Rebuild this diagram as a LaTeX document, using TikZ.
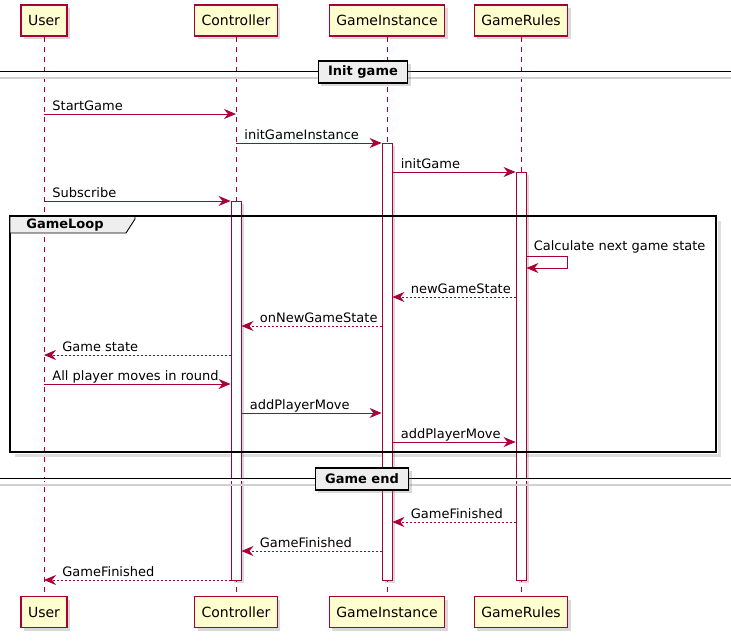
\documentclass[tikz,border=0pt]{standalone}
\usepackage{fontspec}
\setmainfont{DejaVu Sans}
\usetikzlibrary{arrows.meta,shadows}
\definecolor{umlred}{HTML}{A80036}
\definecolor{umlfill}{HTML}{FEFECE}
\definecolor{umlgrey}{HTML}{EEEEEE}

\begin{document}
\begin{tikzpicture}[x=1pt,y=-1pt,>={Stealth[length=12pt,width=10pt,inset=4pt]},
                    semithick]
  \tikzstyle{every node}=[font=\fontsize{13}{15}\selectfont]
  \tikzstyle{shade}=[drop shadow={shadow xshift=3pt,shadow yshift=-3pt,opacity=0.3}]
  \tikzstyle{actor}=[draw=umlred,fill=umlfill,line width=1.2pt,minimum height=31pt,inner xsep=7pt,font=\fontsize{14}{16}\selectfont,shade]
  \tikzstyle{lifeline}=[umlred,line width=0.8pt,dash pattern=on 5pt off 5pt]
  \tikzstyle{act}=[draw=umlred,fill=white,line width=0.9pt,minimum width=10pt,inner sep=0pt,anchor=north,shade]
  \tikzstyle{msg}=[->,umlred,line width=0.8pt]
  \tikzstyle{ret}=[msg,dash pattern=on 2pt off 2pt]
  \tikzstyle{lbl}=[text=black,anchor=base west,inner sep=0pt,xshift=8pt,yshift=4pt]
  \tikzstyle{rlbl}=[text=black,anchor=base west,inner sep=0pt,xshift=18pt,yshift=4pt]
  \tikzstyle{divider}=[draw=black,fill=umlgrey,line width=1.2pt,minimum height=22pt,inner xsep=10pt,font=\bfseries\fontsize{13}{15}\selectfont,shade]

  \useasboundingbox (0,0) rectangle (731,640);

  % participants
  \node[actor] (userT)  at (44,20.5)  {User};
  \node[actor] (ctrlT)  at (236,20.5) {Controller};
  \node[actor] (instT)  at (387,20.5) {GameInstance};
  \node[actor] (rulesT) at (521,20.5) {GameRules};
  \node[actor] (userB)  at (44,612)   {User};
  \node[actor] (ctrlB)  at (236,612)  {Controller};
  \node[actor] (instB)  at (387,612)  {GameInstance};
  \node[actor] (rulesB) at (521,612)  {GameRules};

  \foreach \t/\b in {userT/userB,ctrlT/ctrlB,instT/instB,rulesT/rulesB}
    \draw[lifeline] (\t) -- (\b);

  % message rows
  \foreach \n/\y in {r1/114,r2/143,r3/172,r4/201,r5/256,r6/297,r7/326,r8/355,
                     r9/384,r10/413,r11/442,r12/522,r13/551,r14/580}
    \coordinate (\n) at (0,\y);

  % frame shadow
  \draw[black!13,line width=3pt] (719.5,221) -- (719.5,455.5) -- (15,455.5);

  % activations
  \node[act,minimum height=379pt] (actC) at (ctrlT |- r4)  {};
  \node[act,minimum height=437pt] (actI) at (instT |- r2)  {};
  \node[act,minimum height=408pt] (actR) at (rulesT |- r3) {};

  % GameLoop frame
  \draw[line width=1.8pt] (10,216) rectangle (716,452);
  \draw[fill=umlgrey,line width=0.9pt] (10,216) -- (135,216) -- (135,219) -- (126,233) -- (10,233) -- cycle;
  \draw[line width=1.8pt] (10,216) -- (716,216);
  \node[font=\bfseries\fontsize{13}{15}\selectfont,inner sep=0pt] (loopL) at (65,225) {GameLoop};

  % dividers
  \draw[black!18,line width=2pt] (0,77.5) -- (731,77.5);
  \draw[double,double distance=2pt,line width=0.9pt] (0,72.5) -- (731,72.5);
  \node[divider] (initD) at (363,72) {Init game};
  \draw[black!18,line width=2pt] (0,484.5) -- (731,484.5);
  \draw[double,double distance=2pt,line width=0.9pt] (0,479.5) -- (731,479.5);
  \node[divider] (endD) at (362,479) {Game end};

  % messages
  \path (userT |- r1)   edge[msg] node[lbl,at start] {StartGame}          (ctrlT |- r1)
        (ctrlT |- r2)   edge[msg] node[lbl,at start] {initGameInstance}   (actI.west |- r2)
        (actI.east |- r3) edge[msg] node[lbl,at start] {initGame}         (actR.west |- r3)
        (userT |- r4)   edge[msg] node[lbl,at start] {Subscribe}          (actC.west |- r4)
        (actR.west |- r6) edge[ret] node[rlbl,at end] {newGameState}      (actI.east |- r6)
        (actI.west |- r7) edge[ret] node[rlbl,at end] {onNewGameState}    (actC.east |- r7)
        (actC.west |- r8) edge[ret] node[rlbl,at end] {Game state}        (userT |- r8)
        (userT |- r9)   edge[msg] node[lbl,at start] {All player moves in round} (actC.west |- r9)
        (actC.east |- r10) edge[msg] node[lbl,at start] {addPlayerMove}   (actI.west |- r10)
        (actI.east |- r11) edge[msg] node[lbl,at start] {addPlayerMove}   (actR.west |- r11)
        (actR.west |- r12) edge[ret] node[rlbl,at end] {GameFinished}     (actI.east |- r12)
        (actI.west |- r13) edge[ret] node[rlbl,at end] {GameFinished}     (actC.east |- r13)
        (actC.west |- r14) edge[ret] node[rlbl,at end] {GameFinished}     (userT |- r14);

  \draw[msg] (actR.east |- r5) -- ++(41,0) -- ++(0,12) -- ++(-41,0);
  \node[lbl,xshift=-1pt,yshift=2pt] (calcL) at (actR.east |- r5) {Calculate next game state};
\end{tikzpicture}
\end{document}
